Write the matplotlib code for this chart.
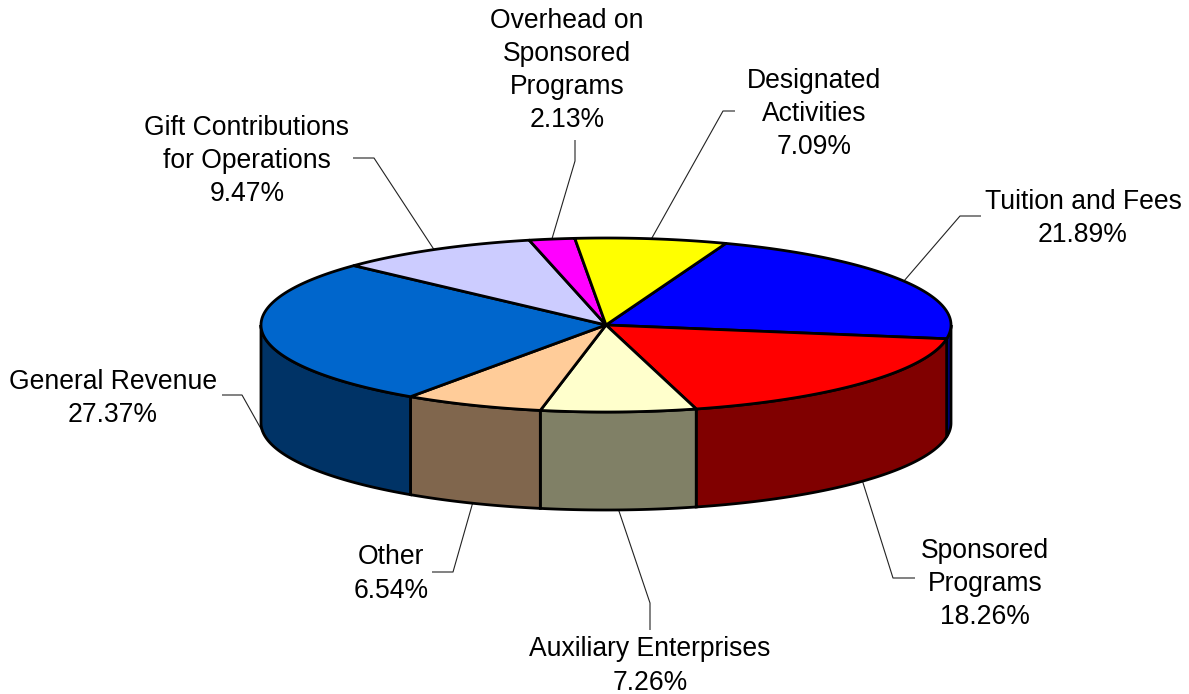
import numpy as np
import matplotlib
matplotlib.use("Agg")
import matplotlib.pyplot as plt
from matplotlib.patches import Polygon

# slices go clockwise from the top of the pie
names = ['Tuition and Fees', 'Sponsored\nPrograms', 'Auxiliary Enterprises', 'Other',
         'General Revenue', 'Gift Contributions\nfor Operations',
         'Overhead on\nSponsored\nPrograms', 'Designated\nActivities']
values = [21.89, 18.26, 7.26, 6.54, 27.37, 9.47, 2.13, 7.09]
colors = ['#0000FF', '#FF0000', '#FFFFCC', '#FFCC99', '#0066CC', '#CCCCFF', '#FF00FF', '#FFFF00']
side_colors = ['#000080', '#800000', '#808066', '#80664D', '#003366', '#666680', '#800080', '#808000']

# label centre and leader elbow points, in pixels
label_pos = [(1083, 218), (985, 584), (650, 666), (391, 574), (113, 398), (247, 161), (567, 70), (814, 114)]
elbows = [[(960, 216), (981, 216)], [(893, 578), (915, 578)], [(650, 603), (650, 630)], [(453, 572), (432, 572)],
          [(242, 395), (222, 395)], [(374, 158), (353, 158)], [(575, 161), (575, 140)], [(723, 111), (735, 111)]]

cx, cy = 606, 325
rx, ry = 345, 87
depth = 98
start = 69.7

plt.rcParams['font.family'] = ['Liberation Sans', 'DejaVu Sans']
fig = plt.figure(figsize=(11.89, 6.94), dpi=100)
ax = fig.add_axes([0, 0, 1, 1])
ax.set_xlim(0, 1189)
ax.set_ylim(694, 0)
ax.axis('off')


def rim(a0, a1, n=200):
    t = np.radians(np.linspace(a0, a1, n))
    return cx + rx * np.cos(t), cy - ry * np.sin(t)


edges = start - np.concatenate([[0], np.cumsum(values)]) * 360 / 100

# outer wall: only the front half of the ellipse shows
for i in range(len(values)):
    a0, a1 = edges[i], edges[i + 1]
    for lo, hi in [(-180, 0), (-540, -360)]:
        s0, s1 = min(a0, hi), max(a1, lo)
        if s0 <= s1:
            continue
        x, y = rim(s0, s1)
        pts = np.r_[np.c_[x, y], np.c_[x[::-1], y[::-1] + depth]]
        ax.add_patch(Polygon(pts, closed=True, fc=side_colors[i], ec='black', lw=2.0, zorder=2))

# top face
for i in range(len(values)):
    x, y = rim(edges[i], edges[i + 1])
    pts = np.r_[[(cx, cy)], np.c_[x, y]]
    ax.add_patch(Polygon(pts, closed=True, fc=colors[i], ec='black', lw=2.0, zorder=3, joinstyle='round'))

# labels and leader lines
for i in range(len(values)):
    mid = (edges[i] + edges[i + 1]) / 2
    x0, y0 = rim(mid, mid, 1)
    x0, y0 = x0[0], y0[0]
    if np.sin(np.radians(mid)) < 0:
        y0 += depth
    xs = [x0] + [p[0] for p in elbows[i]]
    ys = [y0] + [p[1] for p in elbows[i]]
    ax.plot(xs, ys, color='#222222', lw=0.8, zorder=1.5, solid_capstyle='butt')
    ax.text(label_pos[i][0], label_pos[i][1], '%s\n%.2f%%' % (names[i], values[i]), ha='center', va='center',
            fontsize=19.1, linespacing=1.35, color='black', zorder=5)

fig.savefig('out.png', dpi=100)
